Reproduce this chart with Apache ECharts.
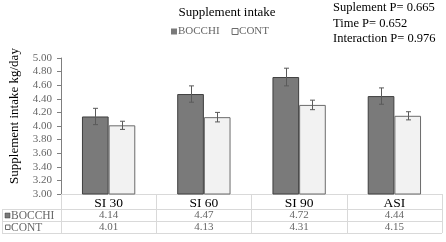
<!DOCTYPE html>
<html><head><meta charset="utf-8">
<script src="https://cdn.jsdelivr.net/npm/echarts@6/dist/echarts.min.js"></script>
<style>html,body{margin:0;padding:0;background:#fff}#c{width:446px;height:242px}</style>
</head><body><div id="c"></div>
<script>
var categories = ['SI 30', 'SI 60', 'SI 90', 'ASI'];
var bocchi = [4.14, 4.47, 4.72, 4.44];
var cont = [4.01, 4.13, 4.31, 4.15];
var bocchiErr = [0.12, 0.12, 0.13, 0.12];
var contErr = [0.06, 0.07, 0.07, 0.06];
var yTicks = {min: 3, max: 5, interval: 0.2};
var pLines = ['Suplement P= 0.665', 'Time P= 0.652', 'Interaction P= 0.976'];

var SERIF = '"Liberation Serif", "DejaVu Serif", serif';
var GAP = 0.44;
var chart = echarts.init(document.getElementById('c'));

function errItem(idx, sign, errs, vals) {
  return function (params, api) {
    var i = api.value(0);
    var cat = api.size([1, 0])[0];
    var bw = cat * (1 - GAP) / 2;
    var c = api.coord([i, vals[i]]);
    var x = Math.round(c[0] + sign * bw / 2) + 0.5;
    var top = api.coord([i, vals[i] + errs[i]])[1];
    var bot = api.coord([i, vals[i] - errs[i]])[1];
    var st = {stroke: '#5a5a5a', lineWidth: 1};
    return {type: 'group', children: [
      {type: 'line', shape: {x1: x, y1: top, x2: x, y2: bot}, style: st},
      {type: 'line', shape: {x1: x - 2.5, y1: top, x2: x + 2.5, y2: top}, style: st},
      {type: 'line', shape: {x1: x - 2.5, y1: bot, x2: x + 2.5, y2: bot}, style: st}
    ]};
  };
}

var tableLine = {stroke: '#d9d9d9', lineWidth: 1};
var option = {
  animation: false,
  textStyle: {fontFamily: SERIF},
  title: {text: 'Supplement intake', left: 222, textAlign: 'center', top: 1,
    textStyle: {fontFamily: SERIF, fontSize: 13, fontWeight: 'normal', color: '#000'}},
  legend: {top: 21, left: 166, itemWidth: 6, itemHeight: 6, itemGap: 12,
    textStyle: {fontFamily: SERIF, fontSize: 11, color: '#666', padding: [0, 0, 0, -4]},
    data: [{name: 'BOCCHI', icon: 'rect', itemStyle: {borderWidth: 0}},
           {name: 'CONT', icon: 'rect', itemStyle: {color: '#fff', borderColor: '#6b6b6b', borderWidth: 1}}]},
  grid: {left: 61, right: 4, top: 58, bottom: 48},
  xAxis: [
    {type: 'category', data: categories, position: 'bottom',
      axisLine: {show: true, lineStyle: {color: '#d9d9d9'}},
      axisTick: {show: true, length: 39, lineStyle: {color: '#d9d9d9'}},
      axisLabel: {margin: 2, fontSize: 13.5, color: '#000', fontFamily: SERIF}},
    {type: 'category', data: categories, position: 'bottom', offset: 14,
      axisLine: {show: false}, axisTick: {show: false},
      axisLabel: {margin: 2, fontSize: 11, color: '#666', fontFamily: SERIF,
        formatter: function (v, i) { return bocchi[i].toFixed(2); }}},
    {type: 'category', data: categories, position: 'bottom', offset: 25.5,
      axisLine: {show: false}, axisTick: {show: false},
      axisLabel: {margin: 2, fontSize: 11, color: '#666', fontFamily: SERIF,
        formatter: function (v, i) { return cont[i].toFixed(2); }}}
  ],
  yAxis: {type: 'value', min: yTicks.min, max: yTicks.max, interval: yTicks.interval,
    axisLine: {show: true, lineStyle: {color: '#7f7f7f'}},
    axisTick: {show: true, length: 4, lineStyle: {color: '#7f7f7f'}},
    splitLine: {show: false},
    axisLabel: {margin: 9, fontSize: 11, color: '#666', fontFamily: SERIF,
      formatter: function (v) { return v.toFixed(2); }}},
  series: [
    {name: 'BOCCHI', type: 'bar', data: bocchi, barGap: '0%', barCategoryGap: (GAP * 100) + '%',
      itemStyle: {color: '#7a7a7a', borderColor: '#3f3f3f', borderWidth: 1}},
    {name: 'CONT', type: 'bar', data: cont,
      itemStyle: {color: '#f2f2f2', borderColor: '#6b6b6b', borderWidth: 1}},
    {type: 'custom', data: categories.map(function (c, i) { return [i]; }),
      renderItem: errItem(0, -1, bocchiErr, bocchi), z: 5},
    {type: 'custom', data: categories.map(function (c, i) { return [i]; }),
      renderItem: errItem(1, 1, contErr, cont), z: 5}
  ],
  graphic: [
    {type: 'text', left: 333, top: 0, style: {text: pLines.join('\n'), font: '12.5px ' + SERIF,
      fill: '#000', lineHeight: 15.5}},
    {type: 'text', x: 15, y: 116, rotation: Math.PI / 2,
      style: {text: 'Supplement intake kg/day', font: '13px ' + SERIF, fill: '#000',
        align: 'center', verticalAlign: 'middle'}},
    {type: 'line', shape: {x1: 2, y1: 209.5, x2: 442, y2: 209.5}, style: tableLine},
    {type: 'line', shape: {x1: 2, y1: 221.5, x2: 442, y2: 221.5}, style: tableLine},
    {type: 'line', shape: {x1: 2, y1: 233.5, x2: 442, y2: 233.5}, style: tableLine},
    {type: 'line', shape: {x1: 2.5, y1: 209.5, x2: 2.5, y2: 233.5}, style: tableLine},
    {type: 'rect', shape: {x: 5, y: 213, width: 5, height: 5}, style: {fill: '#7a7a7a', stroke: '#3f3f3f', lineWidth: 0.5}},
    {type: 'text', x: 11, y: 216, style: {text: 'BOCCHI', font: '11.5px ' + SERIF, fill: '#666', verticalAlign: 'middle'}},
    {type: 'rect', shape: {x: 5.5, y: 225, width: 4.5, height: 4.5}, style: {fill: '#fff', stroke: '#6b6b6b', lineWidth: 1}},
    {type: 'text', x: 11, y: 227.5, style: {text: 'CONT', font: '11.5px ' + SERIF, fill: '#666', verticalAlign: 'middle'}}
  ]
};
chart.setOption(option);
</script></body></html>
